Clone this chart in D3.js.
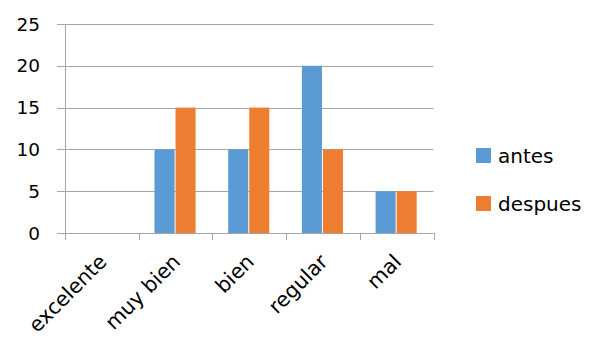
<!DOCTYPE html>
<html>
<head>
<meta charset="utf-8">
<script src="https://cdn.jsdelivr.net/npm/d3@7"></script>
<style>
  html, body { margin: 0; padding: 0; background: #fff; }
  text { font-family: "DejaVu Sans", sans-serif; fill: #000; }
</style>
</head>
<body>
<svg id="chart" width="589" height="339"></svg>
<script>
// Survey ratings, before and after
const categories = ["excelente", "muy bien", "bien", "regular", "mal"];
const seriesNames = ["antes", "despues"];
const antes = [0, 10, 10, 20, 5];
const despues = [0, 15, 15, 10, 5];
const yTicks = [0, 5, 10, 15, 20, 25];
const colors = ["#5B9BD5", "#ED7D31"];

const svg = d3.select("#chart");
const plot = { left: 65, right: 433.5, top: 24, bottom: 233 };

const x = d3.scaleBand().domain(categories).range([plot.left, plot.right]).paddingInner(0).paddingOuter(0);
const bw = x.bandwidth();
const barW = bw / 3.5;               // gap width 150%
const xSub = d3.scaleBand().domain(seriesNames).range([barW * 0.75, bw - barW * 0.75]).padding(0);
const y = d3.scaleLinear().domain([0, 25]).range([plot.bottom, plot.top]);

// horizontal gridlines with left tick stubs
svg.append("g").selectAll("line").data(yTicks).join("line")
  .attr("x1", plot.left - 8).attr("x2", plot.right)
  .attr("y1", d => Math.round(y(d)) + 0.5).attr("y2", d => Math.round(y(d)) + 0.5)
  .attr("stroke", "#a6a6a6").attr("stroke-width", 1);

// vertical axis line
svg.append("line")
  .attr("x1", plot.left + 0.5).attr("x2", plot.left + 0.5)
  .attr("y1", plot.top).attr("y2", plot.bottom + 7)
  .attr("stroke", "#a6a6a6");

// category boundary ticks below the baseline
const bounds = categories.map(c => x(c)).concat([plot.right]);
svg.append("g").selectAll("line").data(bounds).join("line")
  .attr("x1", d => Math.round(d) + 0.5).attr("x2", d => Math.round(d) + 0.5)
  .attr("y1", plot.bottom).attr("y2", plot.bottom + 7)
  .attr("stroke", "#a6a6a6");

// bars
const rows = categories.map((c, i) => ({ c, vals: [antes[i], despues[i]] }));
const groups = svg.append("g").selectAll("g").data(rows).join("g")
  .attr("transform", d => `translate(${x(d.c)},0)`);
groups.selectAll("rect")
  .data(d => d.vals.map((v, k) => ({ v, k })))
  .join("rect")
  .attr("x", d => xSub(seriesNames[d.k]))
  .attr("width", xSub.bandwidth() - 1)
  .attr("y", d => y(d.v))
  .attr("height", d => y(0) - y(d.v))
  .attr("fill", d => colors[d.k]);

// y labels
svg.append("g").selectAll("text").data(yTicks).join("text")
  .attr("x", 40).attr("y", d => y(d))
  .attr("dy", "0.36em")
  .attr("text-anchor", "end")
  .style("font-size", "18.5px")
  .text(d => d);

// x labels, rotated
svg.append("g").selectAll("text").data(categories).join("text")
  .attr("text-anchor", "end")
  .style("font-size", "20.5px")
  .attr("transform", d => `translate(${x(d) + bw / 2 + 6},263) rotate(-45)`)
  .text(d => d);

// legend
const legend = svg.append("g").selectAll("g").data(seriesNames).join("g")
  .attr("transform", (d, i) => `translate(476,${148 + i * 48})`);
legend.append("rect").attr("width", 15).attr("height", 15).attr("fill", (d, i) => colors[i]);
legend.append("text").attr("x", 22).attr("y", 15)
  .style("font-size", "20px")
  .text(d => d);
</script>
</body>
</html>
